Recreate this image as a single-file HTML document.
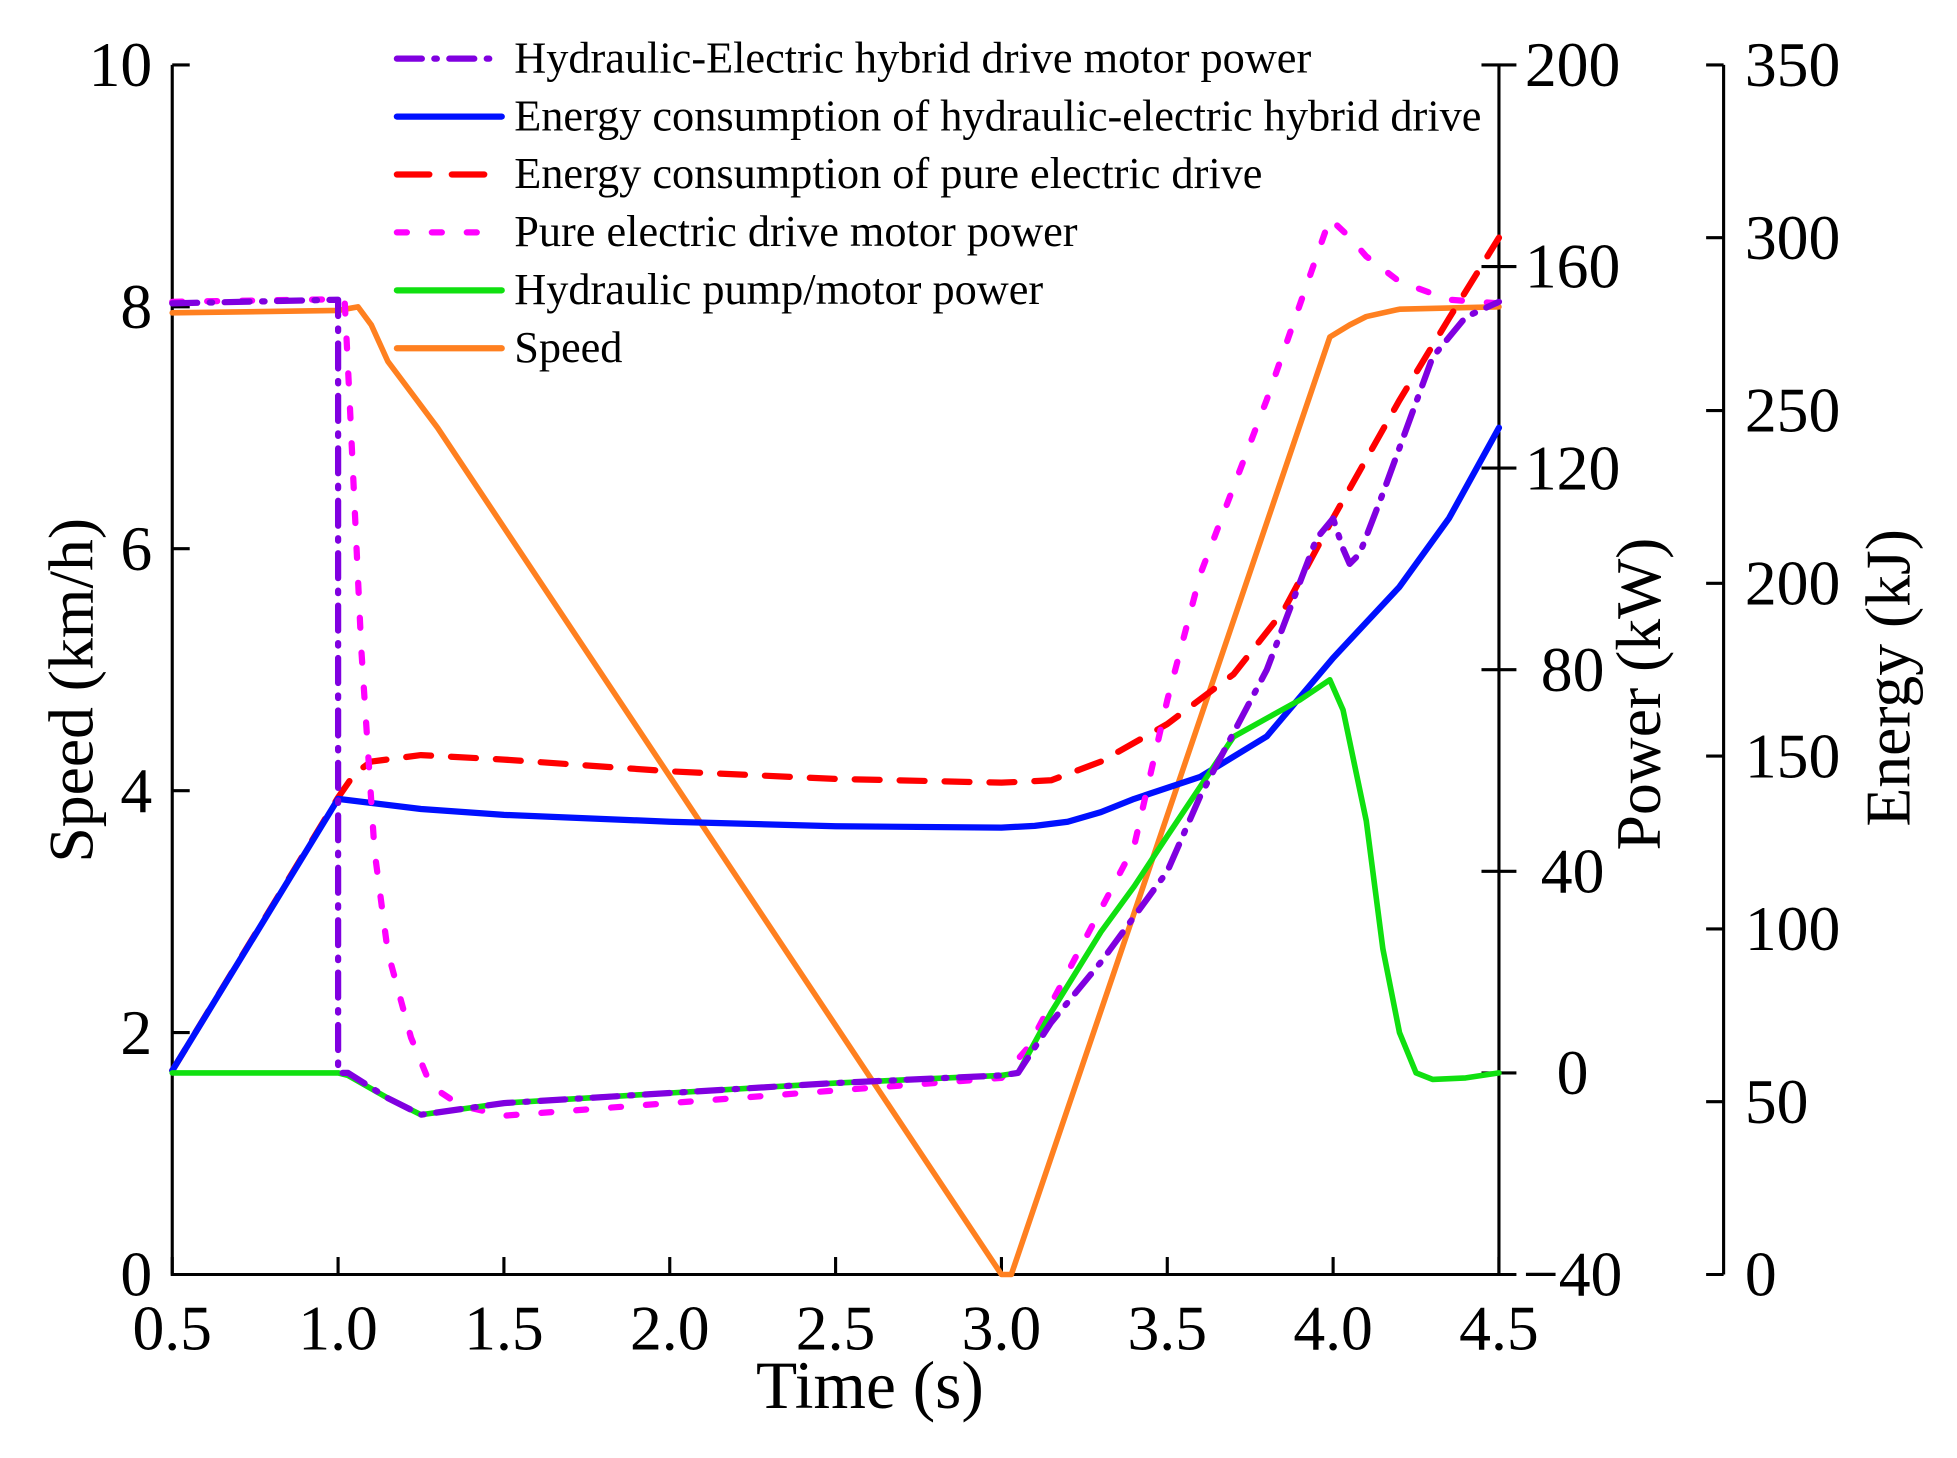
<!DOCTYPE html>
<html><head><meta charset="utf-8"><style>
html,body{margin:0;padding:0;background:#fff;}
svg{display:block;}
text{font-family:"Liberation Serif",serif;fill:#000;}
</style></head><body>
<svg id="chart" width="1957" height="1458" viewBox="0 0 1568 1168" preserveAspectRatio="none" xmlns="http://www.w3.org/2000/svg">
<g id="axes"></g>
<g id="series"></g>
<g id="legend"></g>
</svg>
<script>
const timeTicks=[0.5,1.0,1.5,2.0,2.5,3.0,3.5,4.0,4.5];
const speedTicks=[0,2,4,6,8,10];
const powerTicks=[-40,0,40,80,120,160,200];
const energyTicks=[0,50,100,150,200,250,300,350];

const speedT=[0.5,1.0,1.06,1.1,1.15,1.3,3.0,3.03,3.99,4.05,4.1,4.2,4.5];
const speedV=[7.95,7.97,8.0,7.85,7.55,7.0,0,0,7.75,7.85,7.92,7.98,8.0];

const hybEnergyT=[0.5,1.0,1.25,1.5,2.0,2.5,3.0,3.1,3.2,3.3,3.4,3.6,3.8,4.0,4.2,4.35,4.5];
const hybEnergyV=[59,137.6,134.7,133,131,129.7,129.3,129.8,131,133.8,137.6,144,155.7,178.4,199,218.9,245];

const pureEnergyT=[0.5,1.0,1.05,1.1,1.25,1.5,2.0,2.5,3.0,3.15,3.3,3.5,3.7,3.85,4.0,4.2,4.35,4.5];
const pureEnergyV=[59,138,145,148.4,150.3,149,145.6,143.4,142.3,143,148.4,159.3,173.7,192,218.9,253,276.7,300];

const hybPowerT=[0.5,1.0,1.0,1.03,1.15,1.25,1.5,2.0,2.5,3.0,3.05,3.15,3.3,3.5,3.6,3.8,3.95,4.0,4.03,4.05,4.08,4.15,4.3,4.4,4.5];
const hybPowerV=[152.7,153.4,0,0,-5,-8.3,-6,-4,-2,-0.5,0,10,22,40,55,80,106,110,104,101,103,115,142,150,153];

const purePowerT=[0.5,1.0,1.02,1.035,1.07,1.11,1.15,1.22,1.28,1.37,1.5,2.0,2.5,3.0,3.08,3.2,3.4,3.5,3.6,3.8,3.99,4.05,4.1,4.2,4.35,4.5];
const purePowerV=[153,153.5,153,133,84,44,24,7,-2.6,-6.5,-8.5,-6,-3.5,-1,5,20,45,74,99,133.6,169.5,165.8,162,157,153.4,152.7];

const hydPowerT=[0.5,1.0,1.03,1.15,1.25,1.5,2.0,2.5,3.0,3.05,3.15,3.3,3.4,3.5,3.7,3.9,3.99,4.03,4.1,4.15,4.2,4.25,4.3,4.4,4.5];
const hydPowerV=[0,0,-0.5,-5,-8.3,-6,-4,-2,-0.5,0,12,28,37,47,66.7,74,78,72,50,24.6,8,0,-1.3,-1,0];

const X0=138,X1=1201,Y0=1021,Y1=52;
const xS=t=>X0+(t-0.5)*(X1-X0)/4;
const ySpeed=v=>Y0-v*(Y0-Y1)/10;
const yPower=p=>Y0-(p+40)*(Y0-Y1)/240;
const yEnergy=e=>Y0-e*(Y0-Y1)/350;
const NS="http://www.w3.org/2000/svg";
function mk(tag,attrs,parent){const e=document.createElementNS(NS,tag);for(const k in attrs)e.setAttribute(k,attrs[k]);parent.appendChild(e);return e;}
const axes=document.getElementById('axes'),series=document.getElementById('series'),legend=document.getElementById('legend');

let a=mk('path',{d:`M${X0},${Y1}V${Y0}H${X1}`,stroke:'#000','stroke-width':2.5,fill:'none'},axes);


a=mk('line',{x1:X1,y1:Y1,x2:X1,y2:Y0,stroke:'#000','stroke-width':2.5},axes);


a=mk('line',{x1:1381,y1:Y1,x2:1381,y2:Y0,stroke:'#000','stroke-width':2.5},axes);



timeTicks.forEach(t=>{
  const x=xS(t);
  let l=mk('line',{x1:x,y1:Y0,x2:x,y2:Y0-14,stroke:'#000','stroke-width':2.5},axes);
  
  
  let tx=mk('text',{x:x,y:Y0+60,'font-size':51,'text-anchor':'middle'},axes);tx.textContent=t.toFixed(1);
  
  
});
speedTicks.forEach(v=>{
  const y=ySpeed(v);
  let l=mk('line',{x1:X0,y1:y,x2:X0+14,y2:y,stroke:'#000','stroke-width':2.5},axes);
  
  
  let tx=mk('text',{x:X0-16,y:y+17,'font-size':51,'text-anchor':'end'},axes);tx.textContent=v;
  
  
});
powerTicks.forEach(p=>{
  const y=yPower(p);
  let l=mk('line',{x1:X1-14,y1:y,x2:X1+14,y2:y,stroke:'#000','stroke-width':2.5},axes);
  
  
  let tx=mk('text',{x:1260,y:y+17,'font-size':51,'text-anchor':'middle'},axes);tx.textContent=p<0?'\u2212'+(-p):p;
  
  
});
energyTicks.forEach(e=>{
  const y=yEnergy(e);
  let l=mk('line',{x1:1367,y1:y,x2:1381,y2:y,stroke:'#000','stroke-width':2.5},axes);
  
  
  let tx=mk('text',{x:1398,y:y+17,'font-size':51,'text-anchor':'start'},axes);tx.textContent=e;
  
  
});
let tt=mk('text',{x:697,y:1128,'font-size':54,'text-anchor':'middle'},axes);tt.textContent='Time (s)';


tt=mk('text',{x:0,y:0,'font-size':51,'text-anchor':'middle',transform:'translate(74,553) rotate(-90)'},axes);tt.textContent='Speed (km/h)';


tt=mk('text',{x:0,y:0,'font-size':51,'text-anchor':'middle',transform:'translate(1330,556) rotate(-90)'},axes);tt.textContent='Power (kW)';


tt=mk('text',{x:0,y:0,'font-size':51,'text-anchor':'middle',transform:'translate(1530,543) rotate(-90)'},axes);tt.textContent='Energy (kJ)';



function pathD(T,V,yf){return T.map((t,i)=>(i?'L':'M')+xS(t).toFixed(1)+','+yf(V[i]).toFixed(1)).join('');}
function drawLine(T,V,yf,color,dash,w){
  return mk('path',{d:pathD(T,V,yf),stroke:color,'stroke-width':w,fill:'none','stroke-dasharray':dash,'stroke-linejoin':'round','stroke-linecap':dash==='none'?'round':'round'},series);
}
let s;
s=drawLine(speedT,speedV,ySpeed,'#ff8020','none',4.5);


s=drawLine(pureEnergyT,pureEnergyV,yEnergy,'#ff0000','20,16',5);


s=drawLine(hybEnergyT,hybEnergyV,yEnergy,'#0010ff','none',5);


s=drawLine(purePowerT,purePowerV,yPower,'#ff00ff','8,20',5);


s=drawLine(hydPowerT,hydPowerV,yPower,'#10e010','none',4.5);


s=drawLine(hybPowerT,hybPowerV,yPower,'#8000e0','20,10,2,10',5);



const legLabels=['Hydraulic-Electric hybrid drive motor power','Energy consumption of hydraulic-electric hybrid drive','Energy consumption of pure electric drive','Pure electric drive motor power','Hydraulic pump/motor power','Speed'];
const legColors=['#8000e0','#0010ff','#ff0000','#ff00ff','#10e010','#ff8020'];
const legDash=['20,10,2,10','none','26,18','8,20','none','none'];
legLabels.forEach((lab,i)=>{
  const y=47+i*46.4;
  const g=mk('g',{},legend);
  
  
  mk('line',{x1:318,y1:y,x2:402,y2:y,stroke:legColors[i],'stroke-width':5,'stroke-dasharray':legDash[i],'stroke-linecap':'round'},g);
  const t=mk('text',{x:412,y:y+11,'font-size':35.5},g);t.textContent=lab;
});
</script>
</body></html>
